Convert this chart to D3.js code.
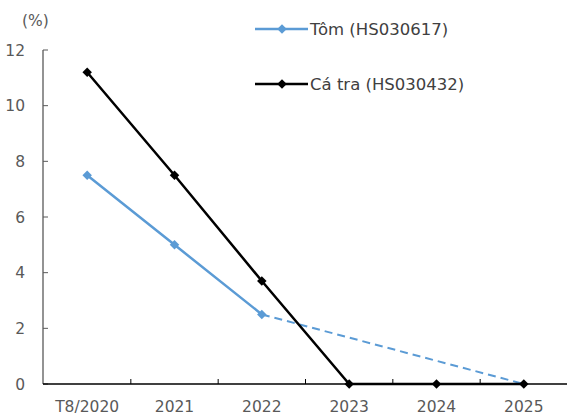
<!DOCTYPE html>
<html><head><meta charset="utf-8">
<script src="https://cdn.jsdelivr.net/npm/d3@7"></script>
<style>body{margin:0;background:#fff}svg{display:block}text{font-family:"DejaVu Sans",sans-serif}</style>
</head><body>
<script>
const categories = ["T8/2020","2021","2022","2023","2024","2025"];
const tomValues = [7.5, 5.0, 2.5, null, null, 0];
const catraValues = [11.2, 7.5, 3.7, 0, 0, 0];
const yTicks = [0,2,4,6,8,10,12];
const seriesNames = ["Tôm (HS030617)", "Cá tra (HS030432)"];

const W=567,H=416;
const svg=d3.select("body").append("svg").attr("width",W).attr("height",H);
const x=d3.scaleBand().domain(categories).range([43.5,567.5]);
const y=d3.scaleLinear().domain([0,12]).range([384,50]);
const gray="#595959";
const fs=15.5;

// y axis
svg.append("line").attr("x1",43).attr("x2",43).attr("y1",y(0)).attr("y2",y(12)).attr("stroke",gray).attr("stroke-width",1.3);
yTicks.forEach(t=>{
  svg.append("line").attr("x1",43).attr("x2",48).attr("y1",y(t)).attr("y2",y(t)).attr("stroke",gray).attr("stroke-width",1);
  svg.append("text").attr("x",25).attr("y",y(t)+5.5).attr("text-anchor","end").attr("font-size",fs).attr("fill",gray).text(t);
});
svg.append("text").attr("x",22).attr("y",26).attr("font-size",fs).attr("fill",gray).text("(%)");
// x axis
svg.append("line").attr("x1",43).attr("x2",567).attr("y1",y(0)).attr("y2",y(0)).attr("stroke","#000").attr("stroke-width",1.3);
categories.forEach((c,i)=>{
  if(i>0){const xx=x(c);svg.append("line").attr("x1",xx).attr("x2",xx).attr("y1",y(0)).attr("y2",y(0)-5).attr("stroke","#000");}
  svg.append("text").attr("x",x(c)+x.bandwidth()/2).attr("y",412).attr("text-anchor","middle").attr("font-size",fs).attr("fill",gray).text(c);
});
const cx=c=>x(c)+x.bandwidth()/2;
const blue="#5B9BD5";
const line=d3.line().defined(d=>d[1]!=null).x(d=>cx(d[0])).y(d=>y(d[1]));
const tomPts=categories.map((c,i)=>[c,tomValues[i]]);
const caPts=categories.map((c,i)=>[c,catraValues[i]]);
const known=tomPts.filter(d=>d[1]!=null);
svg.append("path").attr("d",d3.line().x(d=>cx(d[0])).y(d=>y(d[1]))(known.slice(2))).attr("fill","none").attr("stroke",blue).attr("stroke-width",2).attr("stroke-dasharray","8,5");
svg.append("path").attr("d",line(tomPts.slice(0,3))).attr("fill","none").attr("stroke",blue).attr("stroke-width",2.5);
const sq=d3.symbol().type(d3.symbolSquare).size(45)();
known.slice(0,3).forEach(d=>svg.append("path").attr("d",sq).attr("transform",`translate(${cx(d[0])},${y(d[1])}) rotate(45)`).attr("fill",blue));
svg.append("path").attr("d",line(caPts)).attr("fill","none").attr("stroke","#000").attr("stroke-width",2.5);
caPts.forEach(d=>svg.append("path").attr("d",sq).attr("transform",`translate(${cx(d[0])},${y(d[1])}) rotate(45)`).attr("fill","#000"));
// legend
const leg=[[seriesNames[0],blue,29],[seriesNames[1],"#000",84]];
leg.forEach(([n,c,yy])=>{
  svg.append("line").attr("x1",255).attr("x2",308).attr("y1",yy).attr("y2",yy).attr("stroke",c).attr("stroke-width",2.5);
  svg.append("path").attr("d",sq).attr("transform",`translate(282,${yy}) rotate(45)`).attr("fill",c);
  svg.append("text").attr("x",310).attr("y",yy+6).attr("font-size",16.5).attr("fill","#404040").text(n);
});
</script>
</body></html>
